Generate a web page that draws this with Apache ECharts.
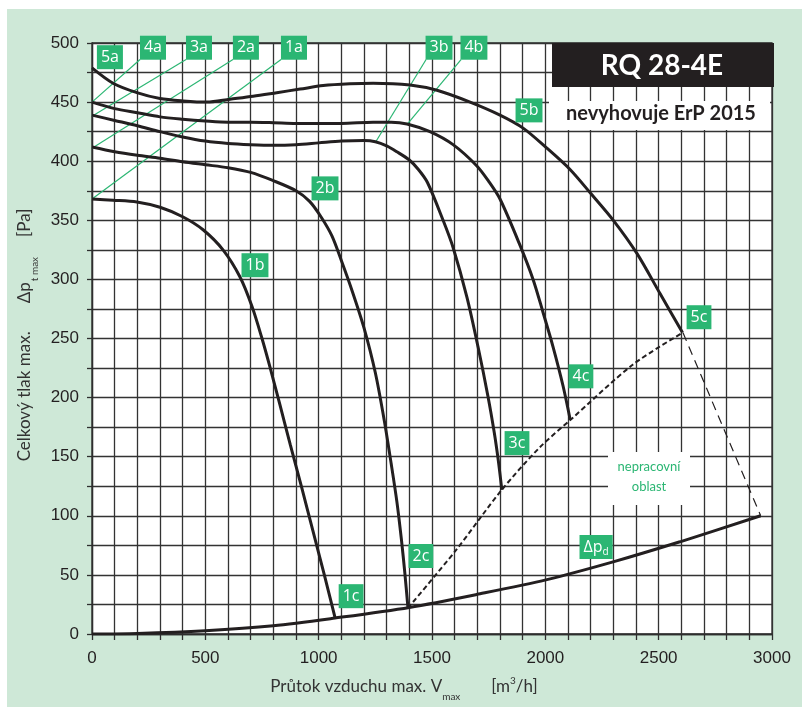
<!DOCTYPE html>
<html><head><meta charset="utf-8">
<script src="https://cdn.jsdelivr.net/npm/echarts@6/dist/echarts.min.js"></script>
<style>
html,body{margin:0;padding:0;background:#fff;}
#c{width:802px;height:707px;background:linear-gradient(#cee8d7,#cee8d7) no-repeat 7px 9px / 795px 698px, #fff;}
</style></head><body><div id="c"></div>
<script>
// ---- data (airflow m3/h, pressure Pa) ----
const xTickLabels = [0, 500, 1000, 1500, 2000, 2500, 3000];
const yTickLabels = [0, 50, 100, 150, 200, 250, 300, 350, 400, 450, 500];

const curve1 = [[0,368],[93,367],[198,365.5],[300,361],[400,353],[490,342],[578,325],[653,302],[706,277],[750,250],[785,226],[829,194],[875,160],[925,124],[975,87],[1025,50],[1072,14]];
const curve2 = [[0,412],[100,408],[200,405],[300,402.5],[400,399.5],[500,397],[600,394.5],[700,390.5],[800,383.5],[900,375],[960,366],[1010,353],[1058,337],[1100,316],[1150,289],[1200,259],[1250,221],[1290,180],[1320,144],[1345,112],[1365,80],[1380,52],[1394,22]];
const curve3 = [[0,439],[100,434.5],[200,430],[300,425],[400,420.5],[500,417],[600,415],[700,414],[800,413.5],[900,414],[1000,415.5],[1100,417],[1200,417.5],[1250,416.5],[1300,413],[1345,408],[1400,401],[1440,393],[1480,382],[1549,350],[1593,327],[1654,285],[1703,243],[1747,201],[1775,170],[1793,146],[1808,122]];
const curve4 = [[0,450],[100,444.5],[200,441],[300,437.5],[400,435.5],[500,434],[600,433],[700,433],[800,432.6],[900,432],[1000,432],[1100,432],[1240,433],[1320,433],[1390,431.5],[1491,425],[1593,414],[1698,396],[1750,383],[1800,368],[1888,329],[1946,300],[1990,272],[2034,243],[2078,210],[2110,181]];
const curve5 = [[0,479],[93,466],[198,458],[300,453],[402,451],[507,450],[609,452.5],[711,455],[815,458],[918,461],[1020,464],[1138,465.5],[1240,466],[1403,464.5],[1522,460],[1668,450],[1800,439],[1902,428],[2007,411],[2109,393],[2197,373.5],[2300,350],[2404,322],[2506,288],[2605,255]];
const dynPressure = [[0,0],[200,0.5],[500,2.8],[800,7],[1072,13.5],[1400,22.5],[1712,34],[2007,46],[2299,61],[2594,78],[2950,100]];
const limitLine = [[1394,22],[1606,71],[1808,122],[1976,158],[2110,181],[2387,228],[2607,255]];
const outerLimit = [[2607,255],[2950,100]];

const leaderLines = [
  [[0,450],[212,486]],
  [[0,438],[415,486]],
  [[0,411],[622,486]],
  [[0,368],[834,486]],
  [[1252,416.5],[1474,486]],
  [[1392,431.5],[1628,486]]
];
const labelTexts = ['5a','4a','3a','2a','1a','3b','4b','5b','2b','1b','5c','4c','3c','2c','1c','Δp{d|d}'];
const labelPos = [[79,488],[269,496],[472,496],[679,496],[891,496],[1531,496],[1685,496],[1928,443],[1028,377],[719,312],[2678,268],[2157,218],[1875,161.5],[1451,66],[1143,32],[2224,73.5]];

const GREEN = '#2bb673';
const INK = '#231f20';

const chart = echarts.init(document.getElementById('c'), null, {renderer:'canvas'});
const curveSeries = (data) => ({
  type:'line', data, showSymbol:false, smooth:0.3, silent:true, z:3,
  lineStyle:{color:INK, width:3}
});
chart.setOption({
  backgroundColor:'transparent',
  animation:false,
  grid:{left:92, right:30, top:43, bottom:73, show:true, backgroundColor:'#fff', borderColor:'#2e2e2e', borderWidth:1.3},
  xAxis:{
    type:'value', min:0, max:3000, interval:100,
    axisLine:{show:true, lineStyle:{color:'#2e2e2e', width:1.3}},
    axisTick:{show:true, length:6, lineStyle:{color:'#2e2e2e', width:1.3}},
    splitLine:{show:true, lineStyle:{color:'#333', width:1.3}},
    axisLabel:{formatter:v=>xTickLabels.includes(v)?String(v):'', margin:16, fontSize:17, color:INK, fontFamily:'Liberation Sans'}
  },
  yAxis:{
    type:'value', min:0, max:500, interval:25,
    axisLine:{show:true, lineStyle:{color:'#2e2e2e', width:1.3}},
    axisTick:{show:true, length:5, lineStyle:{color:'#2e2e2e', width:1.3}},
    splitLine:{show:true, lineStyle:{color:'#333', width:1.3}},
    axisLabel:{formatter:v=>yTickLabels.includes(v)?String(v):'', margin:13, fontSize:17, color:INK, fontFamily:'Liberation Sans'}
  },
  series:[
    {type:'lines', coordinateSystem:'cartesian2d', silent:true, z:2,
     lineStyle:{color:GREEN, width:1.2, opacity:1},
     data: leaderLines.map(c=>({coords:c}))},
    curveSeries(curve1), curveSeries(curve2), curveSeries(curve3), curveSeries(curve4), curveSeries(curve5),
    curveSeries(dynPressure),
    {type:'line', data:limitLine, showSymbol:false, smooth:0.3, silent:true, z:3,
     lineStyle:{color:INK, width:2, type:[5,3]}},
    {type:'line', data:outerLimit, showSymbol:false, silent:true, z:3,
     lineStyle:{color:INK, width:1.2, type:[9,6]}},
    {type:'scatter', silent:true, z:5, symbolSize:0, itemStyle:{opacity:1},
     data: labelPos.map((p,i)=>({value:p, t:labelTexts[i]})),
     label:{show:true, position:'inside', formatter:p=>p.data.t, opacity:1,
       backgroundColor:GREEN, color:'#fff', fontFamily:'Open Sans', fontSize:16, lineHeight:20, padding:[2,4,2,4],
       rich:{d:{fontSize:10, color:'#fff', fontFamily:'Open Sans', verticalAlign:'bottom', lineHeight:12}}}}
  ],
  graphic:[
    {type:'rect', z:100, shape:{x:552, y:43, width:222, height:44}, style:{fill:INK}},
    {type:'text', z:101, x:662, y:66, style:{text:'RQ 28-4E', fill:'#fff', font:'bold 28px Lato', align:'center', verticalAlign:'middle'}},
    {type:'rect', z:100, shape:{x:549, y:101, width:221, height:29}, style:{fill:'#fff'}},
    {type:'text', z:101, x:661, y:114, style:{text:'nevyhovuje ErP 2015', fill:INK, font:'bold 20px Lato', align:'center', verticalAlign:'middle'}},
    {type:'rect', z:100, shape:{x:608, y:452, width:82, height:53}, style:{fill:'#fff'}},
    {type:'text', z:101, x:649, y:477, style:{text:'nepracovní\noblast', fill:GREEN, font:'13px Lato', lineHeight:20, align:'center', verticalAlign:'middle'}},
    {type:'text', z:101, x:404, y:687, style:{
      text:'{a|Průtok vzduchu max. V}{s|max}{g|[m}{p|3}{a|/h]}', align:'center', verticalAlign:'middle',
      rich:{
        a:{font:'17px Lato', fill:'#333', lineHeight:30},
        g:{font:'17px Lato', fill:'#333', lineHeight:30, padding:[0,0,0,31]},
        s:{font:'10px Lato', fill:'#333', verticalAlign:'bottom', lineHeight:12},
        p:{font:'10px Lato', fill:'#333', verticalAlign:'top', lineHeight:12, padding:[4,0,0,0]}
      }}},
    {type:'text', z:101, x:25, y:335, rotation:Math.PI/2, style:{
      text:'{c|Celkový tlak max.}{a|Δp}{s|t max}{e|[Pa]}', align:'center', verticalAlign:'middle',
      rich:{
        c:{font:'17px Lato', fill:'#333', lineHeight:30, padding:[0,28,0,0]},
        a:{font:'17px Lato', fill:'#333', lineHeight:30},
        s:{font:'10px Lato', fill:'#333', verticalAlign:'bottom', lineHeight:12, padding:[0,20,0,1]},
        e:{font:'17px Lato', fill:'#333', lineHeight:30}
      }}}
  ]
});
</script></body></html>
